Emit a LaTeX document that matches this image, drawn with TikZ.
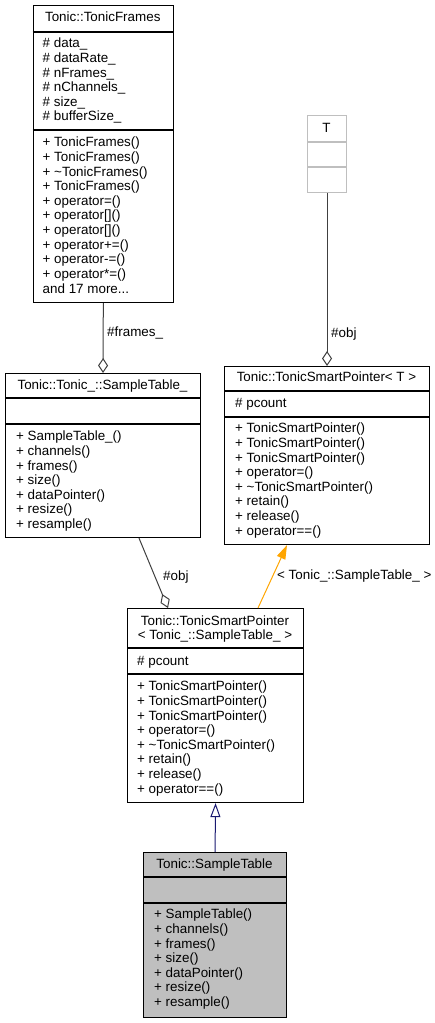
\documentclass[tikz,border=0pt]{standalone}
\usepackage{fontspec}
\setmainfont{Liberation Sans}
\usetikzlibrary{arrows.meta}
\definecolor{edgegray}{HTML}{404040}
\definecolor{boxgray}{HTML}{BFBFBF}
\definecolor{inhblue}{HTML}{191970}
\definecolor{tmplorange}{HTML}{FFA500}
\newcommand\mydots{...}
\newcommand\memberlist[4]{%
  \foreach \t [count=\i] in {#4}
    \node[mem] (#1\i) at ({#2},{#3+4.7+(\i-1)*14.65}) {\t};}
\begin{document}
\begin{tikzpicture}[x=1pt,y=-1pt,
  cls/.style={draw=black, line width=1.1pt, rectangle, inner sep=0pt, anchor=north west},
  sepline/.style={draw=black, line width=1.1pt},
  mem/.style={anchor=base west, inner sep=0pt, font=\fontsize{13.4}{14.6}\selectfont},
  ttl/.style={anchor=base, inner sep=0pt, font=\fontsize{13.4}{14.6}\selectfont},
  lbl/.style={anchor=base west, inner sep=0pt, font=\fontsize{13.4}{14.6}\selectfont},
  edge/.style={draw=edgegray, line width=1pt},
  aggr/.style={-{Diamond[open, length=15pt, width=10pt]}},
  inh/.style={draw=inhblue, line width=1pt, -{Triangle[open, length=14pt, width=10pt]}},
  tmpl/.style={draw=tmplorange, line width=1pt, -{Triangle[fill=tmplorange, length=14pt, width=9pt]}}]
\useasboundingbox (0,0) rectangle (435,1023);

% Tonic::TonicFrames
\node[cls, minimum width=140.5, minimum height=297] (tf) at (32.5,5) {};
\draw[sepline] (32.5,32) -- (173,32);
\draw[sepline] (32.5,130) -- (173,130);
\node[ttl] (tft) at (102.75,21.7) {Tonic::TonicFrames};
\memberlist{tfa}{42.5}{43}{{\# data\_},{\# dataRate\_},{\# nFrames\_},{\# nChannels\_},{\# size\_},{\# bufferSize\_}}
\memberlist{tfm}{42.5}{142}{{+ TonicFrames()},{+ TonicFrames()},{+ \textasciitilde TonicFrames()},{+ TonicFrames()},{+ operator=()},{+ operator[]()},{+ operator[]()},{+ operator+=()},{+ operator-=()},{+ operator*=()},{and 17 more\mydots}}

% T
\node[cls, draw=boxgray, minimum width=39, minimum height=77] (t) at (307,115) {};
\draw[sepline, draw=boxgray] (307,142) -- (346,142);
\draw[sepline, draw=boxgray] (307,167) -- (346,167);
\node[ttl] (tt) at (326.5,132.7) {T};

% Tonic::Tonic_::SampleTable_
\node[cls, minimum width=195, minimum height=164] (stu) at (5,373) {};
\draw[sepline] (5,398) -- (200,398);
\draw[sepline] (5,424) -- (200,424);
\node[ttl] (stut) at (102.5,389.7) {Tonic::Tonic\_::SampleTable\_};
\memberlist{stum}{16}{436}{{+ SampleTable\_()},{+ channels()},{+ frames()},{+ size()},{+ dataPointer()},{+ resize()},{+ resample()}}

% Tonic::TonicSmartPointer< T >
\node[cls, minimum width=205, minimum height=178] (tsp) at (224,366) {};
\draw[sepline] (224,391) -- (429,391);
\draw[sepline] (224,417) -- (429,417);
\node[ttl] (tspt) at (326.5,381.7) {Tonic::TonicSmartPointer< T >};
\memberlist{tspa}{235}{403}{{\# pcount}}
\memberlist{tspm}{235}{428}{{+ TonicSmartPointer()},{+ TonicSmartPointer()},{+ TonicSmartPointer()},{+ operator=()},{+ \textasciitilde TonicSmartPointer()},{+ retain()},{+ release()},{+ operator==()}}

% Tonic::TonicSmartPointer< Tonic_::SampleTable_ >
\node[cls, minimum width=176, minimum height=194] (tsps) at (127,608) {};
\draw[sepline] (127,648) -- (303,648);
\draw[sepline] (127,674) -- (303,674);
\node[ttl] (tspst1) at (215,625.5) {Tonic::TonicSmartPointer};
\node[ttl] (tspst2) at (215,639.5) {< Tonic\_::SampleTable\_ >};
\memberlist{tspsa}{137}{661}{{\# pcount}}
\memberlist{tspsm}{137}{686}{{+ TonicSmartPointer()},{+ TonicSmartPointer()},{+ TonicSmartPointer()},{+ operator=()},{+ \textasciitilde TonicSmartPointer()},{+ retain()},{+ release()},{+ operator==()}}

% Tonic::SampleTable
\node[cls, fill=boxgray, minimum width=143, minimum height=165] (st) at (143,852) {};
\draw[sepline] (143,877) -- (286,877);
\draw[sepline] (143,903) -- (286,903);
\node[ttl] (stt) at (214.5,868.7) {Tonic::SampleTable};
\memberlist{stm}{154}{914}{{+ SampleTable()},{+ channels()},{+ frames()},{+ size()},{+ dataPointer()},{+ resize()},{+ resample()}}

% connectors
\draw[edge, aggr] (tf.south) -- (stu.north);
\node[lbl] (l1) at (107,336.7) {\#frames\_};
\draw[edge, aggr] (t.south) -- (tsp.north);
\node[lbl] (l2) at (331,337.7) {\#obj};
\draw[edge, aggr] (139,0 |- stu.south) -- (168,0 |- tsps.north);
\node[lbl] (l3) at (163,580.7) {\#obj};
\draw[tmpl] (258,0 |- tsps.north) -- (287,0 |- tsp.south);
\node[lbl] (l4) at (277,579.7) {< Tonic\_::SampleTable\_ >};
\draw[inh] (st.north) -- (tsps.south);
\end{tikzpicture}
\end{document}
